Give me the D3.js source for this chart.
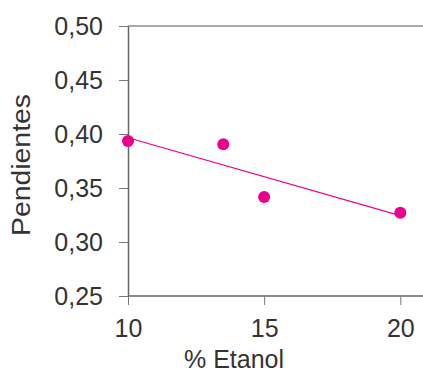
<!DOCTYPE html>
<html>
<head>
<meta charset="utf-8">
<script src="https://cdn.jsdelivr.net/npm/d3@7"></script>
<style>
  body { margin: 0; background: #fff; }
  svg { display: block; font-family: "Liberation Sans", Arial, sans-serif; }
</style>
</head>
<body>
<script>
// data
const etanol = [10, 13.5, 15, 20];
const pendientes = [0.3935, 0.3905, 0.3417, 0.3271];
const xTicks = [10, 15, 20];
const yTicks = [0.25, 0.30, 0.35, 0.40, 0.45, 0.50];

const width = 423, height = 374;
const margin = { top: 26, right: 0, bottom: 78, left: 128 };
const color = "#EC008C";

const svg = d3.select("body").append("svg")
  .attr("width", width)
  .attr("height", height);

const x = d3.scaleLinear()
  .domain([10, 20])
  .range([128, 400.3]);

const y = d3.scaleLinear()
  .domain([0.25, 0.50])
  .range([height - margin.bottom, margin.top]);

const fmt = d => d3.format(".2f")(d).replace(".", ",");

// top border of plot area
svg.append("line")
  .attr("x1", x(10)).attr("x2", width)
  .attr("y1", y(0.5)).attr("y2", y(0.5))
  .attr("stroke", "#8c8c8c")
  .attr("stroke-width", 1.5);

// x axis
const gx = svg.append("g")
  .attr("transform", `translate(0,${y(0.25)})`)
  .call(d3.axisBottom(x).tickValues(xTicks).tickSize(9).tickPadding(14).tickSizeOuter(0));
gx.select(".domain").attr("d", `M${x(10)},0H${width}`);

// y axis
const gy = svg.append("g")
  .attr("transform", `translate(${x(10)},0)`)
  .call(d3.axisLeft(y).tickValues(yTicks).tickFormat(fmt).tickSize(9).tickPadding(16).tickSizeOuter(0));

[gx, gy].forEach(g => {
  g.select(".domain").attr("stroke", "#666").attr("stroke-width", 1.5);
  g.selectAll(".tick line").attr("stroke", "#777").attr("stroke-width", 1);
  g.selectAll(".tick text")
    .attr("fill", "#333")
    .style("font-size", "25px")
    .style("font-family", "'Liberation Sans', Arial, sans-serif");
});
gx.selectAll(".tick text").attr("dy", "0.71em");
gy.selectAll(".tick text").attr("dy", "0.35em");

// linear trend line
const mx = d3.mean(etanol), my = d3.mean(pendientes);
const slope = d3.sum(etanol, (v, i) => (v - mx) * (pendientes[i] - my)) /
  d3.sum(etanol, v => (v - mx) * (v - mx));
const fit = v => my + slope * (v - mx);
const ext = d3.extent(etanol);

svg.append("line")
  .attr("x1", x(ext[0])).attr("y1", y(fit(ext[0])))
  .attr("x2", x(ext[1])).attr("y2", y(fit(ext[1])))
  .attr("stroke", color)
  .attr("stroke-width", 1.2);

// points
svg.selectAll("circle")
  .data(etanol)
  .enter()
  .append("circle")
  .attr("cx", d => x(d))
  .attr("cy", (d, i) => y(pendientes[i]))
  .attr("r", 6)
  .attr("fill", color);

// axis titles
svg.append("text")
  .attr("x", 234)
  .attr("y", 368)
  .attr("text-anchor", "middle")
  .attr("fill", "#333")
  .style("font-size", "25px")
  .text("% Etanol");

svg.append("text")
  .attr("transform", "translate(30,165) rotate(-90)")
  .attr("text-anchor", "middle")
  .attr("fill", "#333")
  .attr("textLength", 142)
  .attr("lengthAdjust", "spacingAndGlyphs")
  .style("font-size", "25px")
  .text("Pendientes");
</script>
</body>
</html>
